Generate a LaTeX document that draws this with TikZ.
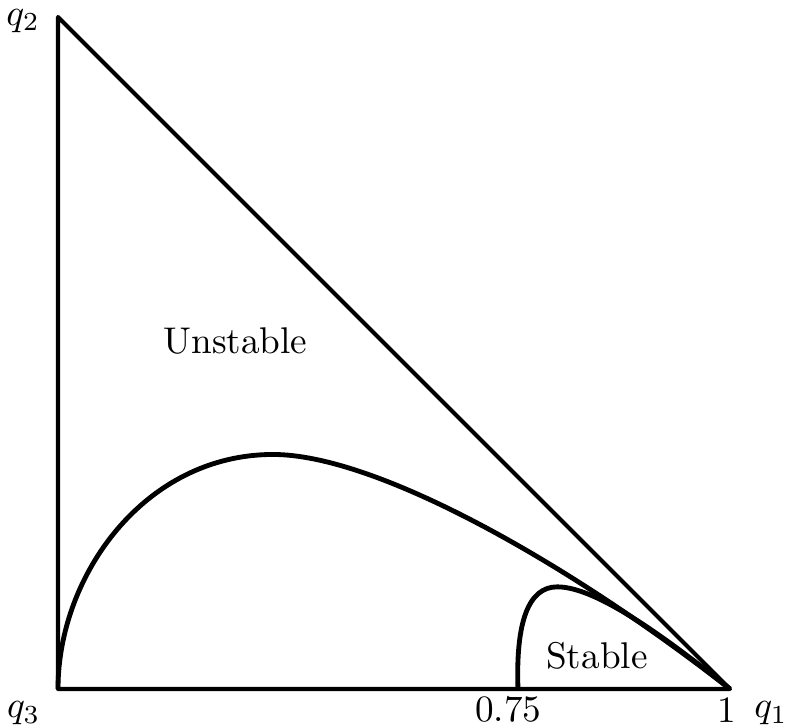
\documentclass[tikz,border=0pt]{standalone}
\usepackage{amsmath,amssymb,amsfonts}
\usepackage{tikz}
\usetikzlibrary{positioning,calc}

\begin{document}
\begin{tikzpicture}[x=6.35cm, y=6.35cm]
    \useasboundingbox (-0.0863,-0.058) rectangle (1.0848,1.0253);

    % Simplex
    \coordinate (q3) at (0,0);
    \coordinate (q1) at (1,0);
    \coordinate (q2) at (0,1);
    \draw[line width=1.1pt, line join=round] (q3) -- (q1) -- (q2) -- cycle;

    % Boundary curves
    \coordinate (peakU) at (0.32,0.349);
    \coordinate (peakS) at (0.743,0.152);
    \coordinate (start) at (0.6845,0);
    \draw[line width=1.3pt] (q3) .. controls (0,0.17) and (0.13,0.349) .. (peakU)
        .. controls (0.47,0.349) and (0.75,0.195) .. (q1);
    \draw[line width=1.3pt] (start) .. controls (0.681,0.1) and (0.7,0.152) .. (peakS)
        .. controls (0.8,0.152) and (0.9,0.08) .. (q1);

    % Labels
    \node (lq2) at (-0.052,0.994) {$q_2$};
    \node (lq3) at (-0.051,-0.036) {$q_3$};
    \node (lq1) at (1.061,-0.036) {$q_1$};
    \node (lone) at (0.9955,-0.031) {1};
    \node (lmid) at (0.670,-0.031) {0.75};
    \node (unstable) at (0.264,0.518) {Unstable};
    \node (stable) at (0.802,0.049) {Stable};
\end{tikzpicture}
\end{document}
